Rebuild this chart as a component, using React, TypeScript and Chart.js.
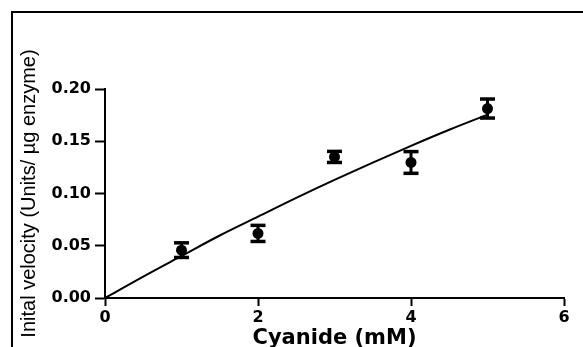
import React, { useEffect, useRef } from "react";
import { Chart, registerables } from "chart.js";

Chart.register(...registerables);

// Measured data: cyanide concentration (mM) vs initial velocity
const cyanide = [1, 2, 3, 4, 5];
const velocity = [0.0458, 0.0618, 0.135, 0.1297, 0.1813];
const velocityErr = [0.007, 0.0077, 0.0053, 0.0104, 0.0091];

// Fitted curve
const fitX = [0, 0.5, 1, 1.5, 2, 2.5, 3, 3.5, 4, 4.5, 5];
const fitY = [0, 0.0205, 0.0402, 0.0598, 0.0778, 0.0958, 0.113, 0.1295, 0.1456, 0.161, 0.1755];

// Axis ticks
const xTicks = [0, 2, 4, 6];
const yTicks = [0, 0.05, 0.1, 0.15, 0.2];

const xTitle = "Cyanide (mM)";
const yTitle = "Inital velocity (Units/ µg enzyme)";

export default function App() {
  const ref = useRef<HTMLCanvasElement | null>(null);

  useEffect(() => {
    if (!ref.current) return;
    const points = cyanide.map((x, i) => ({ x, y: velocity[i] }));
    const errData: any[] = [];
    cyanide.forEach((x, i) => {
      errData.push({ x, y: velocity[i] - velocityErr[i] });
      errData.push({ x, y: velocity[i] + velocityErr[i] });
      errData.push({ x, y: null });
    });
    const curve = fitX.map((x, i) => ({ x, y: fitY[i] }));

    const tickFont = { family: "DejaVu Sans", weight: "bold" as const, size: 16 };

    const chart = new Chart(ref.current, {
      type: "scatter",
      data: {
        datasets: [
          {
            data: points,
            pointRadius: 5.5,
            pointBackgroundColor: "#000",
            pointBorderColor: "#000",
            pointBorderWidth: 0,
            showLine: false,
          },
          {
            data: errData,
            showLine: true,
            spanGaps: false,
            borderColor: "#000",
            borderWidth: 3,
            pointStyle: "line",
            pointRadius: 7.5,
            pointBorderWidth: 3.5,
            pointBorderColor: "#000",
          } as any,
          {
            data: curve,
            showLine: true,
            borderColor: "#000",
            borderWidth: 2,
            pointRadius: 0,
            cubicInterpolationMode: "monotone",
          } as any,
        ],
      },
      options: {
        responsive: false,
        animation: false,
        layout: { padding: { left: 17, top: 89, right: 19, bottom: 0 } },
        plugins: { legend: { display: false }, tooltip: { enabled: false } },
        scales: {
          x: {
            type: "linear",
            min: 0,
            max: 6,
            afterBuildTicks: (s: any) => {
              s.ticks = xTicks.map((v) => ({ value: v }));
            },
            afterFit: (s: any) => {
              s.height = 49;
            },
            ticks: {
              font: tickFont,
              color: "#000",
              padding: 2,
              maxRotation: 0,
              callback: (v: any) => String(v),
            },
            grid: {
              display: true,
              drawOnChartArea: false,
              drawTicks: true,
              tickLength: 8,
              tickWidth: 2,
              tickColor: "#000",
              color: "#000",
            },
            border: { display: true, color: "#000", width: 2 },
            title: {
              display: true,
              text: xTitle,
              color: "#000",
              font: { family: "DejaVu Sans", weight: "bold", size: 21, lineHeight: 0.8 },
              padding: 0,
            },
          },
          y: {
            type: "linear",
            min: 0,
            max: 0.2,
            afterBuildTicks: (s: any) => {
              s.ticks = yTicks.map((v) => ({ value: v }));
            },
            afterFit: (s: any) => {
              s.width = 88;
            },
            ticks: {
              font: tickFont,
              color: "#000",
              padding: 4,
              callback: (v: any) => Number(v).toFixed(2),
            },
            grid: {
              display: true,
              drawOnChartArea: false,
              drawTicks: true,
              tickLength: 10,
              tickWidth: 2,
              tickColor: "#000",
              color: "#000",
            },
            border: { display: true, color: "#000", width: 2 },
            title: {
              display: true,
              text: yTitle,
              color: "#000",
              font: { family: "Liberation Sans", weight: "normal", size: 20, lineHeight: 1 },
              padding: { top: 2, bottom: 0 },
            },
          },
        },
      },
    });
    return () => chart.destroy();
  }, []);

  return (
    <div style={{ position: "fixed", left: 0, top: 0, width: 583, height: 347, background: "#fff", overflow: "hidden" }}>
      <div
        style={{
          position: "absolute",
          left: 11,
          top: 11,
          width: 600,
          height: 400,
          borderTop: "2px solid #000",
          borderLeft: "2px solid #000",
        }}
      />
      <canvas ref={ref} width={583} height={347} style={{ position: "absolute", left: 0, top: 0 }} />
    </div>
  );
}
